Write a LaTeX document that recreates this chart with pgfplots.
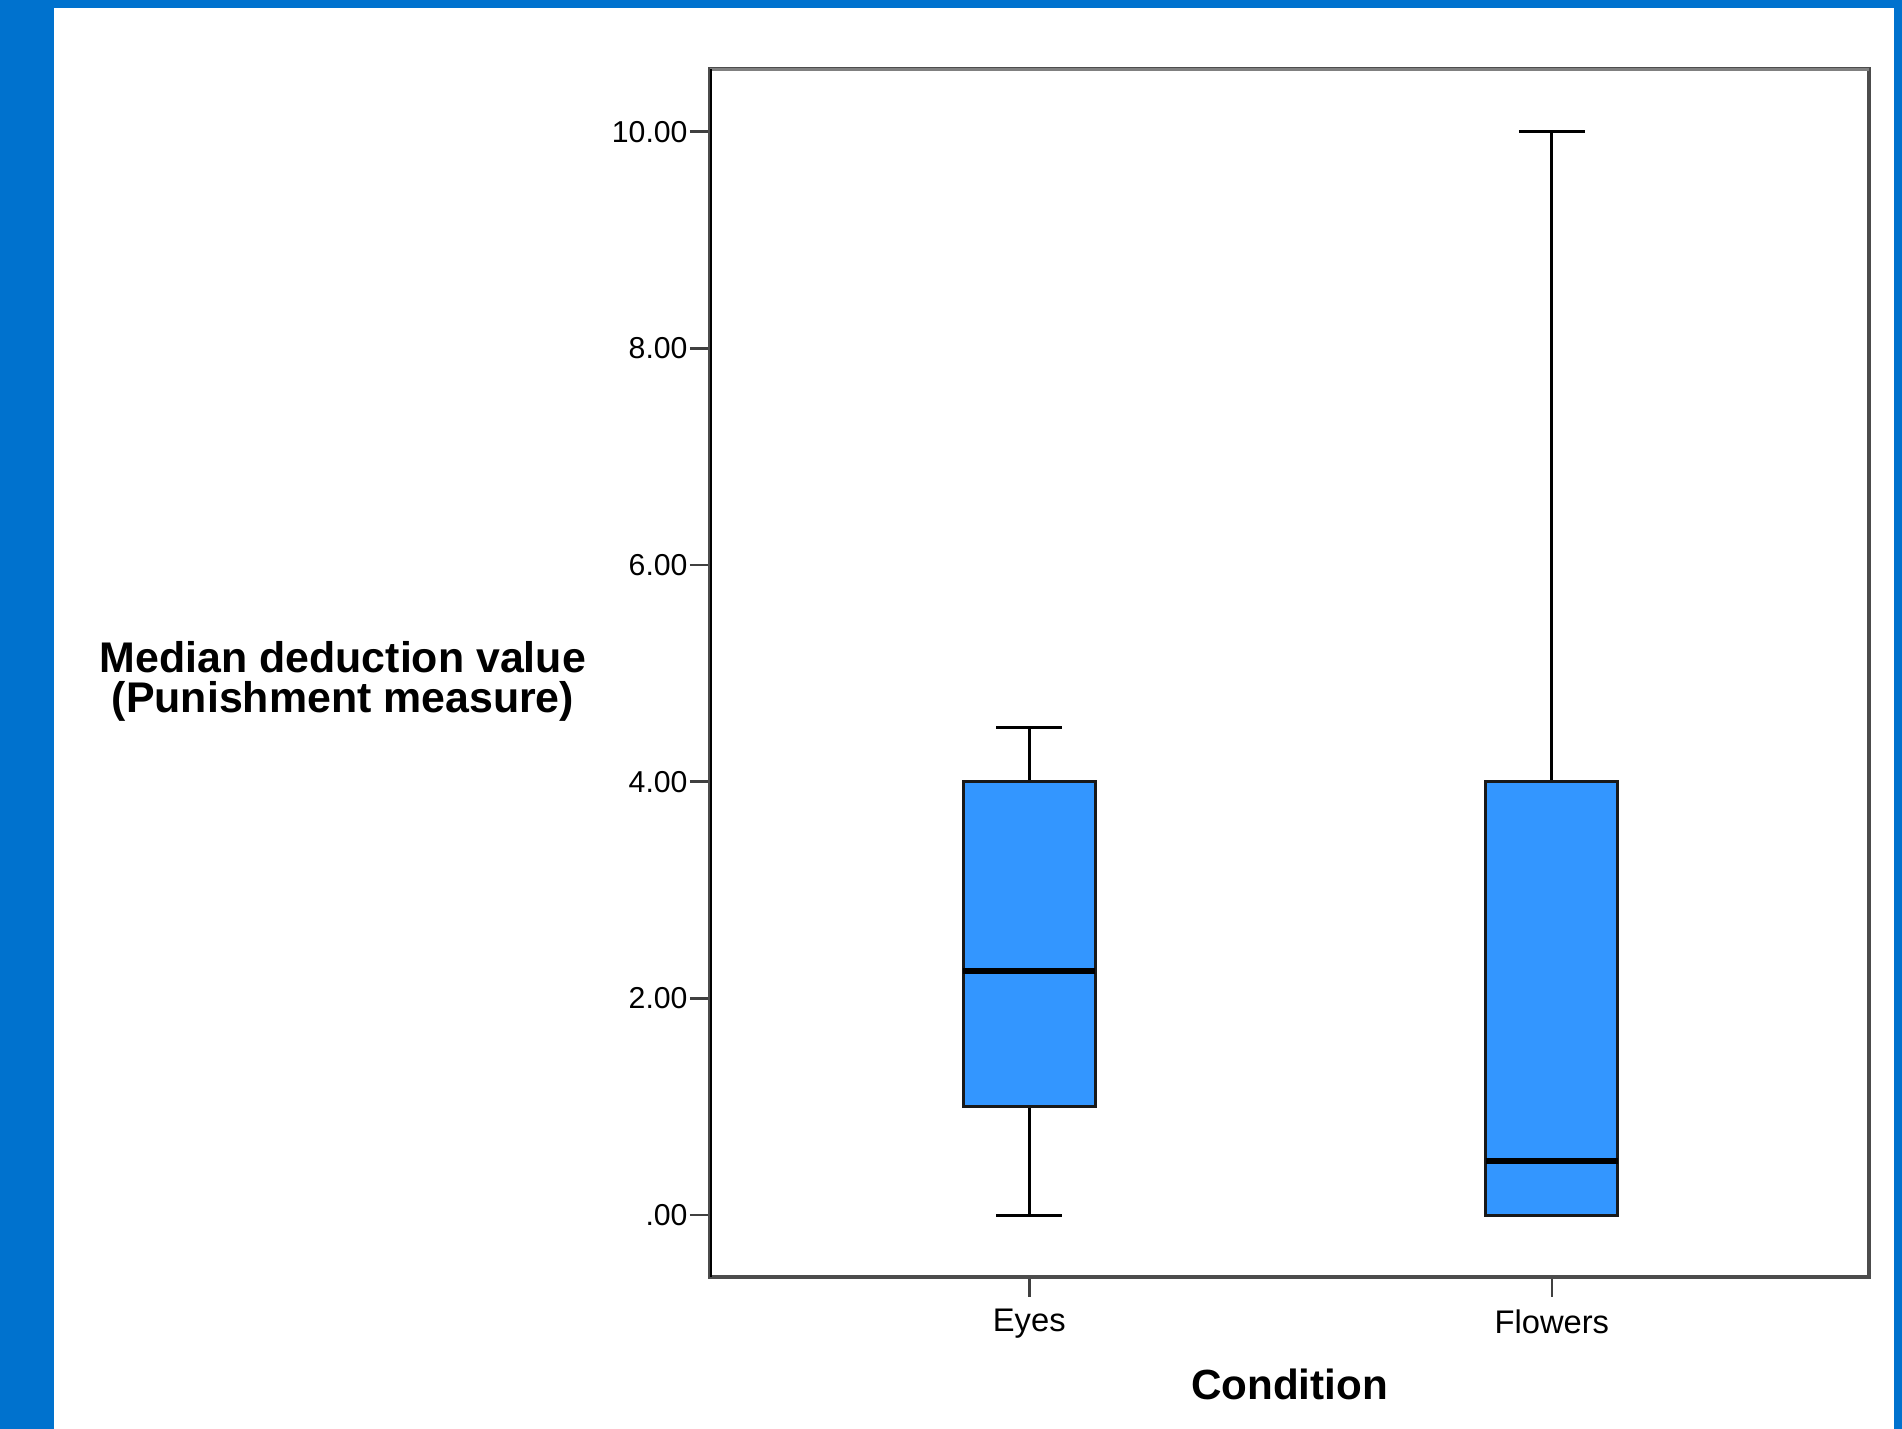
\documentclass[border=0pt]{standalone}
\usepackage{fontspec}
\setmainfont{Liberation Sans}
\usepackage{pgfplots}
\pgfplotsset{compat=1.18}
\usepgfplotslibrary{statistics}
\definecolor{frameblue}{RGB}{0,114,206}
\definecolor{boxblue}{RGB}{51,150,255}
\begin{document}
\begin{tikzpicture}
\fill[white] (0,0) rectangle (19.02cm,14.29cm);
\fill[frameblue] (0,0) rectangle (0.54cm,14.29cm);
\fill[frameblue] (0,14.21cm) rectangle (19.02cm,14.29cm);
\fill[frameblue] (18.94cm,0) rectangle (19.02cm,14.29cm);
\begin{axis}[
  at={(7.10cm,1.52cm)}, anchor=south west, scale only axis,
  width=11.59cm, height=12.08cm,
  xmin=0.389, xmax=2.607, ymin=-0.572, ymax=10.579,
  xtick={1,2}, xticklabels={Eyes,Flowers},
  ytick={0,2,4,6,8,10}, yticklabels={.00,2.00,4.00,6.00,8.00,10.00},
  tick align=outside, major tick length=0.2cm,
  xtick pos=left, ytick pos=left,
  tick style={black!75, line width=0.25mm},
  axis line style={black!70, line width=0.4mm},
  yticklabel style={font=\fontsize{8.6}{10}\selectfont, inner sep=0.5pt},
  xticklabel style={font=\fontsize{9.3}{11}\selectfont},
  xlabel={Condition},
  every axis x label/.style={at={(axis description cs:0.5,-0.0886)}, anchor=center, font=\bfseries\fontsize{12}{14}\selectfont},
  ylabel={Median deduction value\\(Punishment measure)},
  every axis y label/.style={at={(axis description cs:-0.3167,0.4934)}, anchor=center, align=center, font=\bfseries\fontsize{12.2}{11.4}\selectfont},
  boxplot/draw direction=y,
  boxplot/every median/.style={line width=0.6mm, draw=black},
  boxplot/every whisker/.style={line width=0.3mm, draw=black},
  boxplot/every box/.style={line width=0.3mm, draw=black!90, fill=boxblue},
]
\addplot[boxplot prepared={draw position=1, lower whisker=0, lower quartile=1, median=2.25, upper quartile=4, upper whisker=4.5, box extend=0.252, whisker extend=0.126}, draw=black, fill=boxblue, solid, mark=none] coordinates {};
\addplot[boxplot prepared={draw position=2, lower whisker=0, lower quartile=0, median=0.5, upper quartile=4, upper whisker=10, box extend=0.252, whisker extend=0.126}, draw=black, fill=boxblue, solid, mark=none] coordinates {};
\draw[black!50, line width=0.4mm] (rel axis cs:0,1) -- (rel axis cs:1,1);
\draw[black, line width=0.4mm] (rel axis cs:0,0) -- (rel axis cs:0,1);
\end{axis}
\end{tikzpicture}
\end{document}
